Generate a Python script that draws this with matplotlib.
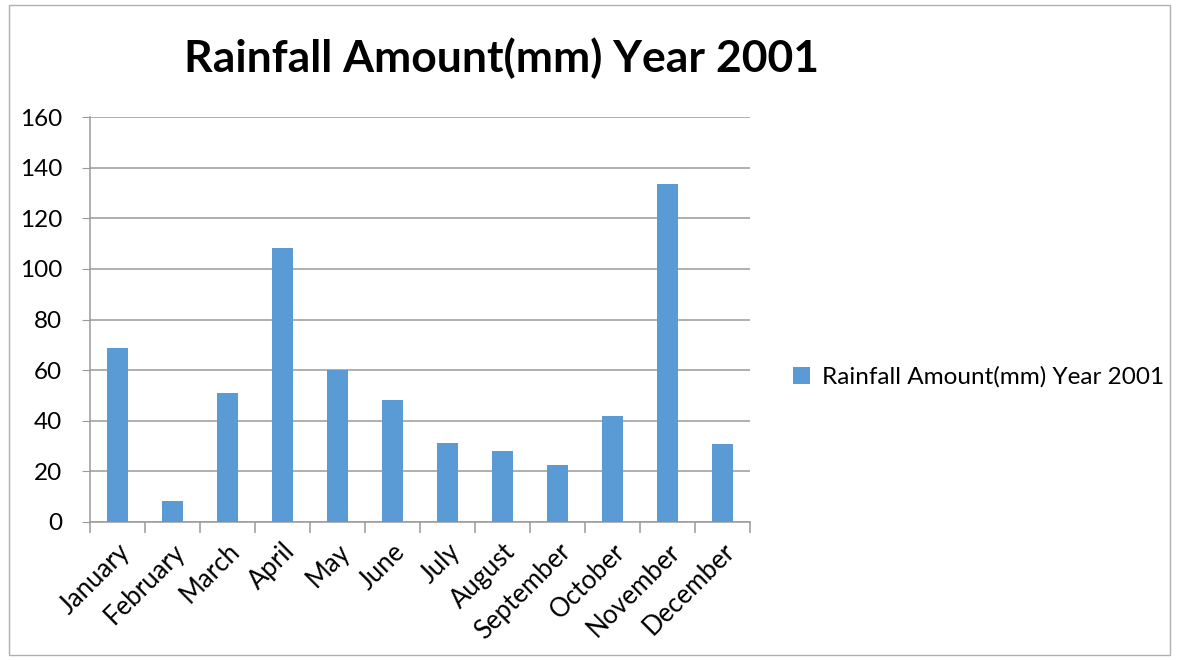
import matplotlib
matplotlib.use("Agg")
import matplotlib.pyplot as plt
from matplotlib.patches import Rectangle
import numpy as np

months = ["January", "February", "March", "April", "May", "June",
          "July", "August", "September", "October", "November", "December"]
rainfall = [68.6, 8.4, 51.0, 108.2, 60.0, 48.3, 31.2, 28.2, 22.5, 41.7, 133.5, 30.8]
series_name = "Rainfall Amount(mm) Year 2001"
y_ticks = [0, 20, 40, 60, 80, 100, 120, 140, 160]

plt.rcParams['font.family'] = ['Lato', 'DejaVu Sans']

fig = plt.figure(figsize=(11.78, 6.6), dpi=100)
ax = fig.add_axes([90/1178, 1-522/660, 660/1178, 405/660])

x = np.arange(len(months))
bars = ax.bar(x, rainfall, width=0.38, color="#5B9BD5", label=series_name, zorder=3)

ax.set_xlim(-0.5, len(months) - 0.5)
ax.set_ylim(0, 160)
ax.set_yticks(y_ticks)
ax.set_yticklabels([str(v) for v in y_ticks], fontsize=17.5)
ax.yaxis.grid(True, color="#9a9a9a", linewidth=1.1, zorder=0)
ax.tick_params(axis='y', length=6, color="#9a9a9a", pad=14)

# Category labels at centres, tick marks at category boundaries
ax.set_xticks(x)
ax.set_xticklabels(months, rotation=45, ha='right', rotation_mode='anchor', fontsize=18.5)
ax.tick_params(axis='x', which='major', length=0, pad=12)
ax.set_xticks(np.arange(-0.5, len(months)), minor=True)
ax.tick_params(axis='x', which='minor', length=8, color="#9a9a9a", width=1.1)

for side in ['top', 'right']:
    ax.spines[side].set_visible(False)
for side in ['left', 'bottom']:
    ax.spines[side].set_color("#9a9a9a")
    ax.spines[side].set_linewidth(1.1)

fig.text(501/1178, 1-58/660, series_name, fontsize=32, fontweight='bold',
         ha='center', va='center')

leg = fig.legend(handles=[bars], labels=[series_name], loc='center left',
                 bbox_to_anchor=(771/1178, 1-377/660), frameon=False, fontsize=17.5,
                 handlelength=0.7, handleheight=0.7, handletextpad=0.5)

fig.patches.append(Rectangle((9/1178, 1-655/660), 1161/1178, 650/660,
                             transform=fig.transFigure, fill=False,
                             edgecolor="#b0b0b0", linewidth=1))

fig.savefig("out.png", dpi=100)
